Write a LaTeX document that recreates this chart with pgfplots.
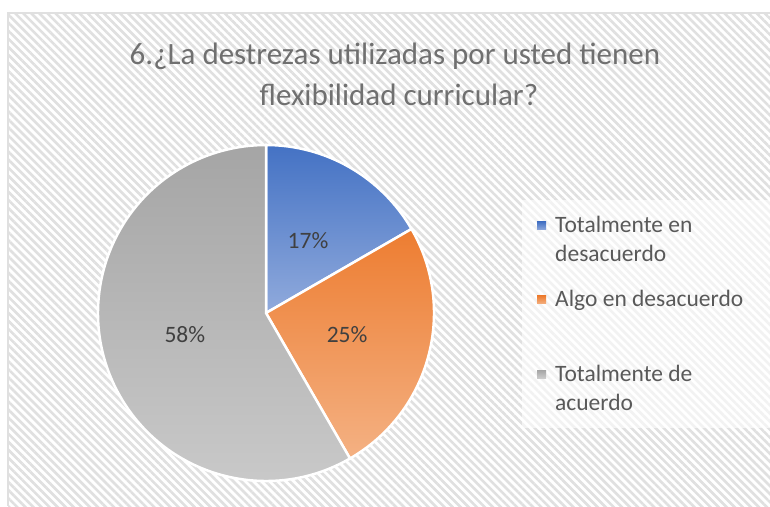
\documentclass[border=0pt]{standalone}
\usepackage{fontspec}
\setmainfont{Carlito}
\usepackage{pgfplots}
\pgfplotsset{compat=1.18}
\usetikzlibrary{patterns.meta}

\definecolor{bluetop}{HTML}{4472C4}
\definecolor{bluebot}{HTML}{90AADC}
\definecolor{orgtop}{HTML}{ED7D31}
\definecolor{orgbot}{HTML}{F4B183}
\definecolor{graytop}{HTML}{A5A5A5}
\definecolor{graybot}{HTML}{CBCBCB}
\definecolor{hatch}{HTML}{E0E0E0}
\definecolor{titlegray}{HTML}{707070}
\definecolor{labgray}{HTML}{404040}
\definecolor{leggray}{HTML}{595959}

\begin{document}
\begin{tikzpicture}[x=1pt,y=1pt]
\useasboundingbox (0,0) rectangle (770,506);
\fill[white] (0,0) rectangle (770,506);
% chart area with diagonal hatch
\fill[pattern={Lines[angle=-45,distance=5.7pt,line width=2.6pt]},pattern color=hatch]
  (8,0) rectangle (770,493);
\draw[hatch,line width=1.5pt] (8,0) -- (8,493) -- (770,493);
% legend backdrop
\fill[white,opacity=0.6] (522,78) rectangle (770,306);

% title
\node[anchor=base,text=titlegray,font=\fontsize{31}{41}\selectfont] at (395,441)
  {6.¿La destrezas utilizadas por usted tienen};
\node[anchor=base,text=titlegray,font=\fontsize{31}{41}\selectfont] at (399,400)
  {flexibilidad curricular?};

% pie: shares 2/12, 3/12, 7/12 -> 60, 90, 210 degrees, clockwise from 12 o'clock
\begin{axis}[
    at={(266pt,193pt)}, anchor=origin,
    x=168pt, y=168pt,
    xmin=-1.05, xmax=1.05, ymin=-1.05, ymax=1.05,
    hide axis, clip=false,
]
\addplot[draw=white, line width=2.5pt, top color=bluetop, bottom color=bluebot, data cs=polar]
  coordinates {(0,0) (90,1)} arc[start angle=90, end angle=30, radius=168pt] -- cycle;
\addplot[draw=white, line width=2.5pt, top color=orgtop, bottom color=orgbot, data cs=polar]
  coordinates {(0,0) (30,1)} arc[start angle=30, end angle=-60, radius=168pt] -- cycle;
\addplot[draw=white, line width=2.5pt, top color=graytop, bottom color=graybot, data cs=polar]
  coordinates {(0,0) (-60,1)} arc[start angle=-60, end angle=-270, radius=168pt] -- cycle;
% value labels at mid-angle, half radius
\addplot[only marks, mark=none, data cs=polar,
    nodes near coords, point meta=explicit symbolic,
    nodes near coords style={anchor=center, text=labgray, font=\fontsize{23.5}{28}\selectfont}]
  coordinates {(60,0.5) [17\%] (-15,0.5) [25\%] (195,0.5) [58\%]};
\end{axis}

% legend
\shade[top color=bluetop, bottom color=bluebot] (537,276) rectangle (546,284);
\shade[top color=orgtop, bottom color=orgbot] (537,202) rectangle (546,210);
\shade[top color=graytop, bottom color=graybot] (537,128) rectangle (546,136);
\begin{scope}[every node/.style={anchor=base west, inner sep=0pt, text=leggray, font=\fontsize{23.5}{29}\selectfont}]
\node at (555,273) {Totalmente en};
\node at (555,244) {desacuerdo};
\node at (555,199) {Algo en desacuerdo};
\node at (555,125) {Totalmente de};
\node at (555,96) {acuerdo};
\end{scope}
\end{tikzpicture}
\end{document}
